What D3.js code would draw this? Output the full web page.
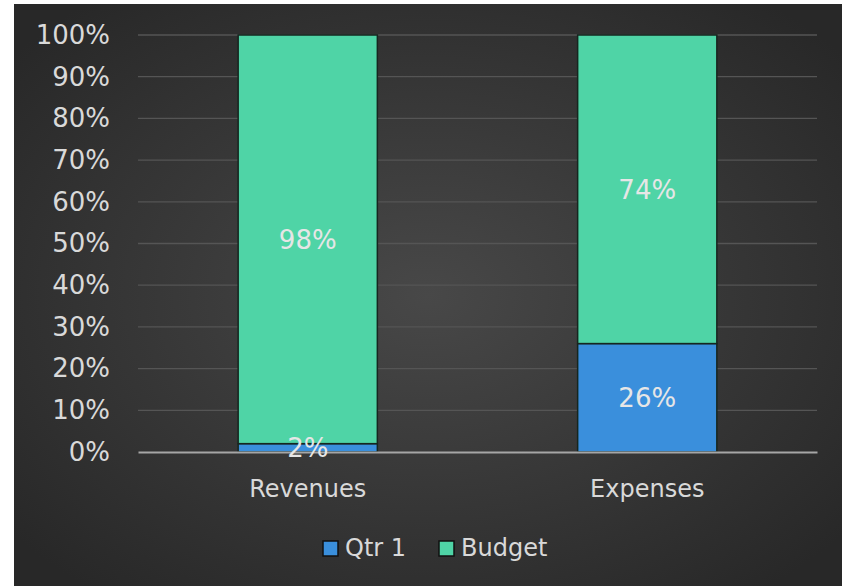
<!DOCTYPE html>
<html>
<head>
<meta charset="utf-8">
<script src="https://cdn.jsdelivr.net/npm/d3@7"></script>
<style>
    body { margin: 0; background: #fff; }
    svg { display: block; }
    text { font-family: "DejaVu Sans", sans-serif; fill: #d9d9d9; }
</style>
</head>
<body>
<div id="chart"></div>
<script>
const categories = ['Revenues', 'Expenses'];
const seriesNames = ['Qtr 1', 'Budget'];
const qtr1 = [0.02, 0.26];
const budget = [0.98, 0.74];
const yTicks = [0, 0.1, 0.2, 0.3, 0.4, 0.5, 0.6, 0.7, 0.8, 0.9, 1.0];

const w = 842, h = 586;
const margin = { top: 35, right: 25, bottom: 134, left: 138 };
const colors = { 'Qtr 1': '#3a8fdc', 'Budget': '#4fd4a6' };
const fontFam = '"DejaVu Sans", sans-serif';

const svg = d3.select('#chart').append('svg')
    .attr('width', w)
    .attr('height', h);

const defs = svg.append('defs');
const bg = defs.append('radialGradient').attr('id', 'bg')
    .attr('cx', '50%').attr('cy', '50%').attr('r', '65%');
bg.append('stop').attr('offset', '0%').attr('stop-color', '#484848');
bg.append('stop').attr('offset', '100%').attr('stop-color', '#282828');

svg.append('rect')
    .attr('x', 14).attr('y', 4)
    .attr('width', w - 14).attr('height', h - 4)
    .attr('fill', 'url(#bg)');

const x = d3.scaleBand()
    .domain(categories)
    .range([margin.left, w - margin.right])
    .paddingInner(0.59)
    .paddingOuter(0.295);

const y = d3.scaleLinear()
    .domain([0, 1])
    .range([h - margin.bottom, margin.top]);

// gridlines
svg.append('g')
    .selectAll('line')
    .data(yTicks.slice(1))
    .enter()
    .append('line')
    .attr('x1', margin.left)
    .attr('x2', w - margin.right)
    .attr('y1', d => y(d))
    .attr('y2', d => y(d))
    .attr('stroke', '#555')
    .attr('stroke-width', 1.3);

// y axis labels
const yAxis = d3.axisLeft(y).tickValues(yTicks).tickFormat(d3.format('.0%')).tickSize(0).tickPadding(28);
const gy = svg.append('g')
    .attr('transform', 'translate(' + margin.left + ',0)')
    .call(yAxis);
gy.select('.domain').remove();
gy.selectAll('text')
    .attr('fill', '#d9d9d9')
    .style('font-size', '26px')
    .style('font-family', fontFam);

// stacked data
const rows = categories.map((c, i) => ({ cat: c, 'Qtr 1': qtr1[i], 'Budget': budget[i] }));
const stack = d3.stack().keys(seriesNames)(rows);

const layers = svg.append('g')
    .selectAll('g')
    .data(stack)
    .enter()
    .append('g')
    .attr('fill', d => colors[d.key]);

layers.selectAll('rect')
    .data(d => d)
    .enter()
    .append('rect')
    .attr('x', d => x(d.data.cat))
    .attr('y', d => y(d[1]))
    .attr('width', x.bandwidth())
    .attr('height', d => y(d[0]) - y(d[1]))
    .attr('stroke', '#16261f')
    .attr('stroke-width', 1.5);

// x axis
const xAxis = d3.axisBottom(x).tickSize(0).tickPadding(28);
const gx = svg.append('g')
    .attr('transform', 'translate(0,' + (h - margin.bottom) + ')')
    .call(xAxis);
gx.select('.domain')
    .attr('stroke', '#a6a6a6')
    .attr('stroke-width', 2);
gx.selectAll('text')
    .attr('fill', '#d9d9d9')
    .style('font-size', '24px')
    .style('font-family', fontFam);

// data labels, on top of all bars
const labels = svg.append('g');
stack.forEach(layer => {
    labels.selectAll(null)
        .data(layer)
        .enter()
        .append('text')
        .attr('x', d => x(d.data.cat) + x.bandwidth() / 2)
        .attr('y', d => (y(d[0]) + y(d[1])) / 2)
        .attr('dy', '0.36em')
        .attr('text-anchor', 'middle')
        .style('font-size', '26px')
        .style('fill', '#e6e6e6')
        .text(d => d3.format('.0%')(d[1] - d[0]));
});

// legend
const legend = svg.append('g');
const legendX = [323, 439];
seriesNames.forEach((s, i) => {
    legend.append('rect')
        .attr('x', legendX[i])
        .attr('y', 541)
        .attr('width', 15)
        .attr('height', 15)
        .attr('fill', colors[s])
        .attr('stroke', '#111')
        .attr('stroke-width', 1.5);
    legend.append('text')
        .attr('x', legendX[i] + 22)
        .attr('y', 556)
        .style('font-size', '24px')
        .text(s);
});
</script>
</body>
</html>
